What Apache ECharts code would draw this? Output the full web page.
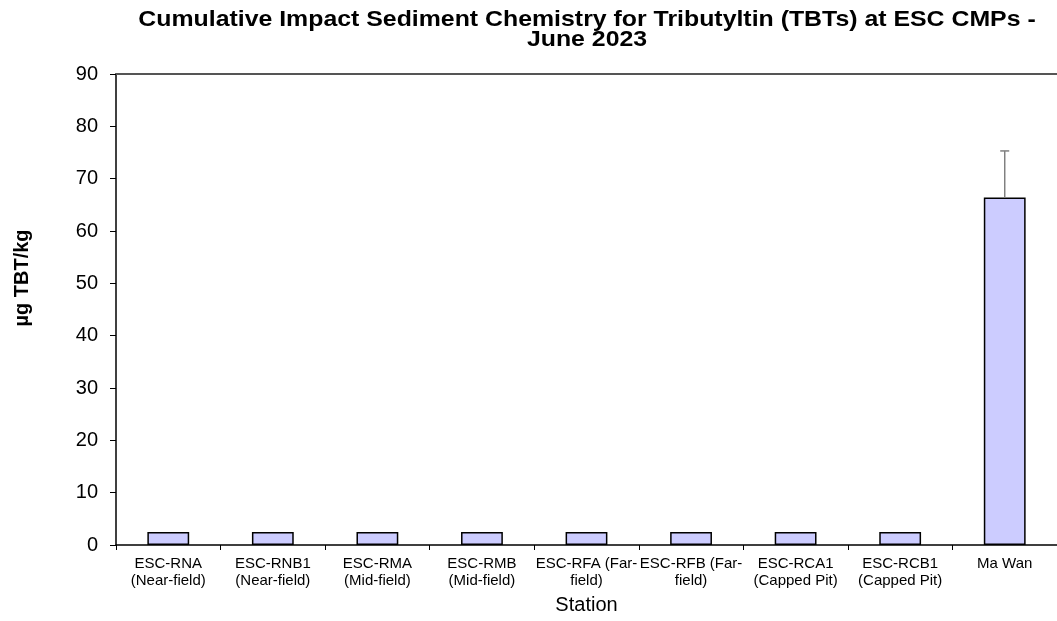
<!DOCTYPE html>
<html>
<head>
<meta charset="utf-8">
<script src="https://cdn.jsdelivr.net/npm/echarts@6/dist/echarts.min.js"></script>
<style>
  html, body { margin: 0; padding: 0; background: #fff; }
  #chart { width: 1057px; height: 621px; }
</style>
</head>
<body>
<div id="chart"></div>
<script>
const titleLines = [
  'Cumulative Impact Sediment Chemistry for Tributyltin (TBTs) at ESC CMPs -',
  'June 2023'
]
const stations = [
  'ESC-RNA\n(Near-field)',
  'ESC-RNB1\n(Near-field)',
  'ESC-RMA\n(Mid-field)',
  'ESC-RMB\n(Mid-field)',
  'ESC-RFA (Far-\nfield)',
  'ESC-RFB (Far-\nfield)',
  'ESC-RCA1\n(Capped Pit)',
  'ESC-RCB1\n(Capped Pit)',
  'Ma Wan'
]
const tbtValues = [2.5, 2.5, 2.5, 2.5, 2.5, 2.5, 2.5, 2.5, 66.4]
const tbtErrors = [0, 0, 0, 0, 0, 0, 0, 0, 8.9]

const font = '"Liberation Sans", Arial, sans-serif'
const chart = echarts.init(document.getElementById('chart'))

// title is drawn as text graphics so it can be widened a little like the original
const titleGraphics = titleLines.map((line, i) => ({
  type: 'text',
  x: 587,
  y: 19.5 + i * 20,
  scaleX: 1.13,
  style: {
    text: line,
    fontFamily: font,
    fontSize: 22,
    fontWeight: 'bold',
    fill: '#000',
    align: 'center',
    verticalAlign: 'middle'
  }
}))

chart.setOption({
  animation: false,
  graphic: titleGraphics.concat([
    {
      type: 'text',
      x: 22,
      y: 278,
      rotation: Math.PI / 2,
      style: {
        text: 'µg TBT/kg',
        fontFamily: font,
        fontSize: 20,
        fontWeight: 'bold',
        fill: '#000',
        align: 'center',
        verticalAlign: 'middle'
      }
    }
  ]),
  grid: {
    left: 116,
    top: 74,
    width: 946,
    bottom: 76
  },
  xAxis: [
    {
      type: 'category',
      data: stations,
      name: 'Station',
      nameLocation: 'center',
      nameGap: 50,
      nameTextStyle: { fontFamily: font, fontSize: 20, color: '#000' },
      axisLine: { lineStyle: { color: '#000', width: 1.5 } },
      axisTick: { show: true, length: 5, lineStyle: { color: '#000' } },
      axisLabel: {
        fontFamily: font,
        fontSize: 15,
        color: '#000',
        lineHeight: 17,
        margin: 10,
        interval: 0
      }
    },
    {
      type: 'category',
      position: 'top',
      data: stations,
      axisLine: { lineStyle: { color: '#555', width: 2 } },
      axisTick: { show: false },
      axisLabel: { show: false }
    }
  ],
  yAxis: {
    type: 'value',
    min: 0,
    max: 90,
    interval: 10,
    axisLine: { show: true, lineStyle: { color: '#000', width: 1.5 } },
    axisTick: { show: true, length: 6, lineStyle: { color: '#000' } },
    axisLabel: { fontFamily: font, fontSize: 20, color: '#000', margin: 18 },
    splitLine: { show: false }
  },
  series: [
    {
      type: 'bar',
      data: tbtValues,
      barWidth: '40%',
      itemStyle: { color: '#CCCCFF', borderColor: '#000', borderWidth: 1.5 }
    },
    {
      type: 'custom',
      data: tbtValues.map((v, i) => [i, v, tbtErrors[i]]),
      renderItem: function (params, api) {
        const err = api.value(2)
        if (!err) return null
        const base = api.coord([api.value(0), api.value(1)])
        const top = api.coord([api.value(0), api.value(1) + err])
        const style = { stroke: '#808080', lineWidth: 1.5 }
        return {
          type: 'group',
          children: [
            { type: 'line', shape: { x1: base[0], y1: base[1], x2: top[0], y2: top[1] }, style: style },
            { type: 'line', shape: { x1: top[0] - 4.5, y1: top[1], x2: top[0] + 4.5, y2: top[1] }, style: style }
          ]
        }
      },
      z: 3
    }
  ]
})
</script>
</body>
</html>
